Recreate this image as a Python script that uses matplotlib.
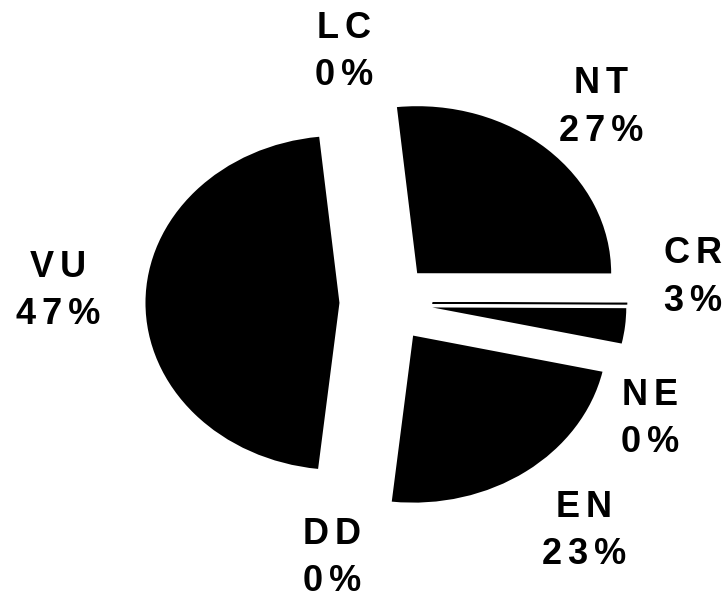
import matplotlib.pyplot as plt
import numpy as np

# ----------------------------
# Data (IUCN categories, clockwise from the top)
# ----------------------------
categories = ["LC", "NT", "NE", "CR", "EN", "DD", "VU"]
values = [0.0, 26.7, 0.05, 3.4, 23.3, 0.0, 46.6]

# label centres in figure fractions (Excel pushed some of them around)
label_pos = [
    (0.4725, 0.914),
    (0.8255, 0.8226),
    (0.893, 0.3086),
    (0.952, 0.542),
    (0.802, 0.1238),
    (0.456, 0.0792),
    (0.0797, 0.5198),
]

total = sum(values)
pcts = [int(round(v / total * 100)) for v in values]

# ----------------------------
# Plot
# ----------------------------
fig = plt.figure(figsize=(7.28, 6.06), dpi=100)
ax = fig.add_axes([0, 0, 1, 1])

wedges, _ = ax.pie(
    values,
    colors=["black"] * len(values),
    startangle=96,
    counterclock=False,
    explode=[0.24] * len(values),
    wedgeprops={"linewidth": 0},
)

# the tiny NE slice shows up as a thin line
wedges[categories.index("NE")].set_edgecolor("black")
wedges[categories.index("NE")].set_linewidth(1.1)

# the pie is stretched sideways in the original
ax.set_aspect("auto")
ax.set_xlim(-1.990, 1.763)
ax.set_ylim(-1.814, 1.814)
ax.axis("off")


def spaced(s):
    return "\u2006".join(s)


for cat, pct, (x, y) in zip(categories, pcts, label_pos):
    fig.text(
        x, y,
        spaced(cat) + "\n" + spaced(f"{pct}%"),
        ha="center",
        va="center",
        fontsize=26,
        fontweight="bold",
        family=["Liberation Sans", "DejaVu Sans"],
        linespacing=1.45,
    )

plt.savefig("out.png", dpi=100)
